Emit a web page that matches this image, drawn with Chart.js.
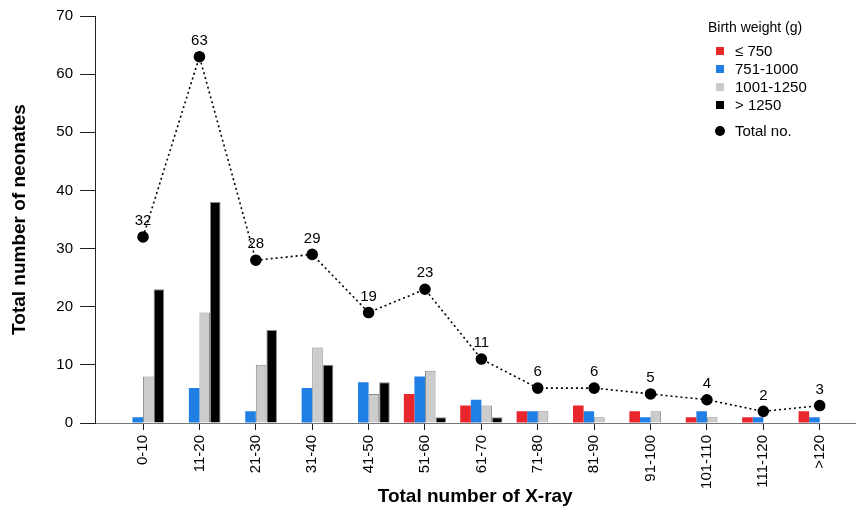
<!DOCTYPE html>
<html>
<head>
<meta charset="utf-8">
<script src="https://cdn.jsdelivr.net/npm/chart.js@4.4.1/dist/chart.umd.min.js"></script>
<style>
  body { margin: 0; background: #fff; }
  #wrap { width: 862px; height: 515px; position: relative; }
</style>
</head>
<body>
<div id="wrap"><canvas id="xrayChart"></canvas></div>
<script>
const categories = ["0-10", "11-20", "21-30", "31-40", "41-50", "51-60", "61-70",
  "71-80", "81-90", "91-100", "101-110", "111-120", ">120"];

const le750 = [0, 0, 0, 0, 0, 5, 3, 2, 3, 2, 1, 1, 2];
const w751to1000 = [1, 6, 2, 6, 7, 8, 4, 2, 2, 1, 2, 1, 1];
const w1001to1250 = [8, 19, 10, 13, 5, 9, 3, 2, 1, 2, 1, 0, 0];
const gt1250 = [23, 38, 16, 10, 7, 1, 1, 0, 0, 0, 0, 0, 0];
const totalNo = [32, 63, 28, 29, 19, 23, 11, 6, 6, 5, 4, 2, 3];

const yTicks = [0, 10, 20, 30, 40, 50, 60, 70];

const FONT = "'Liberation Sans', Arial, sans-serif";

// bars are placed on a linear index axis so the axis can start left of the first group
function toPoints(arr) {
  return arr.map((v, i) => ({ x: i, y: v }));
}

const barSets = [
  { label: "\u2264 750", values: le750, color: "#e8262b", border: 0 },
  { label: "751-1000", values: w751to1000, color: "#1f7fe5", border: 0 },
  { label: "1001-1250", values: w1001to1250, color: "#cccccc", border: 1 },
  { label: "> 1250", values: gt1250, color: "#000000", border: 1 },
];

const datasets = barSets.map((s) => ({
  type: "bar",
  label: s.label,
  data: toPoints(s.values),
  backgroundColor: s.color,
  borderColor: "#8a8a8a",
  borderWidth: s.border,
  borderSkipped: "bottom",
  categoryPercentage: 0.75,
  barPercentage: 1.0,
  order: 2,
}));

datasets.push({
  type: "line",
  label: "Total no.",
  data: toPoints(totalNo),
  borderColor: "#000",
  borderWidth: 1.6,
  borderDash: [2, 3],
  pointRadius: 5,
  pointBackgroundColor: "#000",
  pointBorderColor: "#000",
  tension: 0,
  fill: false,
  order: 1,
});

// numbers above the total points
const pointLabels = {
  id: "pointLabels",
  afterDatasetsDraw(chart) {
    const ctx = chart.ctx;
    const meta = chart.getDatasetMeta(chart.data.datasets.length - 1);
    ctx.save();
    ctx.font = "15px " + FONT;
    ctx.fillStyle = "#000";
    ctx.textAlign = "center";
    ctx.textBaseline = "middle";
    meta.data.forEach((pt, i) => {
      ctx.fillText(String(totalNo[i]), pt.x, pt.y - 16);
    });
    ctx.restore();
  },
};

// legend in the top right corner
const sideLegend = {
  id: "sideLegend",
  afterDraw(chart) {
    const ctx = chart.ctx;
    const x0 = 708;
    ctx.save();
    ctx.font = "14px " + FONT;
    ctx.fillStyle = "#000";
    ctx.textBaseline = "middle";
    ctx.textAlign = "left";
    ctx.fillText("Birth weight (g)", x0, 28);

    ctx.font = "15px " + FONT;
    const rows = [51, 69, 87, 105];
    barSets.forEach((s, i) => {
      ctx.fillStyle = s.color;
      ctx.fillRect(x0 + 8, rows[i] - 4, 8, 8);
      ctx.fillStyle = "#000";
      ctx.fillText(s.label, x0 + 27, rows[i] + 1);
    });
    ctx.beginPath();
    ctx.arc(x0 + 12, 131, 5, 0, Math.PI * 2);
    ctx.fill();
    ctx.fillText("Total no.", x0 + 27, 132);
    ctx.restore();
  },
};

const chart = new Chart(document.getElementById("xrayChart"), {
  data: { datasets: datasets },
  options: {
    responsive: true,
    maintainAspectRatio: false,
    animation: false,
    layout: { padding: { top: 15, right: 0, left: 0, bottom: 0 } },
    plugins: {
      legend: { display: false },
      tooltip: { enabled: false },
    },
    scales: {
      x: {
        type: "linear",
        offset: false,
        min: -0.852,
        max: 12.633,
        afterBuildTicks(scale) {
          scale.ticks = categories.map((c, i) => ({ value: i }));
        },
        afterFit(scale) {
          scale.height = 92;
        },
        ticks: {
          autoSkip: false,
          minRotation: 90,
          maxRotation: 90,
          padding: 5,
          color: "#000",
          font: { family: FONT, size: 15 },
          callback: (v) => categories[v],
        },
        grid: {
          display: true,
          offset: false,
          drawOnChartArea: false,
          drawTicks: true,
          tickLength: 7,
          color: "#222",
        },
        border: { display: true, color: "#777", width: 1 },
        title: {
          display: true,
          text: "Total number of X-ray",
          color: "#000",
          font: { family: FONT, size: 19, weight: "bold" },
          padding: { top: 0, bottom: 7 },
        },
      },
      y: {
        min: 0,
        max: 70,
        afterBuildTicks(scale) {
          scale.ticks = yTicks.map((v) => ({ value: v }));
        },
        afterFit(scale) {
          scale.width = 95;
        },
        ticks: {
          padding: 7,
          color: "#000",
          font: { family: FONT, size: 15 },
        },
        grid: {
          display: true,
          drawOnChartArea: false,
          drawTicks: true,
          tickLength: 15,
          color: "#222",
        },
        border: { display: true, color: "#222", width: 1 },
        title: {
          display: true,
          text: "Total number of neonates",
          color: "#000",
          font: { family: FONT, size: 19, weight: "bold" },
          padding: { top: 8, bottom: 0 },
        },
      },
    },
  },
  plugins: [pointLabels, sideLegend],
});
</script>
</body>
</html>
